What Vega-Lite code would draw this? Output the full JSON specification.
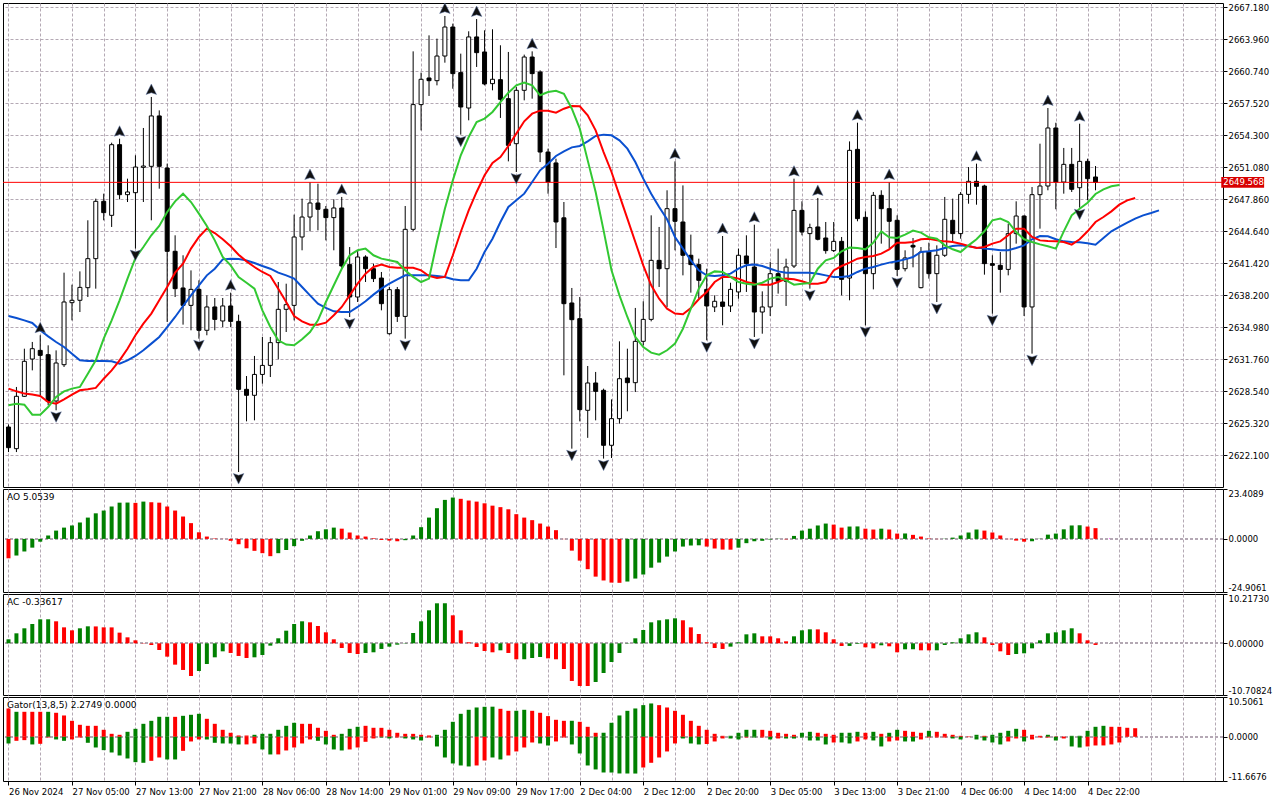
{
"$schema": "https://vega.github.io/schema/vega-lite/v6.json",
"padding": {"left": 2, "top": 1, "right": 0, "bottom": 0},
"background": "white",
"spacing": 2,
"bounds": "flush",
"config": {
 "view": {"stroke": "black", "strokeWidth": 1},
 "font": "DejaVu Sans",
 "axis": {"labelFont": "DejaVu Sans", "labelFontSize": 8.5, "labelColor": "black", "tickColor": "black", "domain": false},
 "title": {"font": "DejaVu Sans", "fontSize": 9, "fontWeight": "normal", "color": "black", "anchor": "start", "frame": "group", "baseline": "top", "offset": -13.5, "dx": 4},
 "locale": {"number": {"decimal": ".", "thousands": ",", "grouping": [3], "currency": ["$", ""], "minus": "-"}}
},
"datasets": {
 "candles": [
{"i":0,"o":2624.95,"h":2625.2,"l":2622.43,"c":2622.87},
{"i":1,"o":2622.77,"h":2628.98,"l":2622.43,"c":2628.04},
{"i":2,"o":2628.04,"h":2632.83,"l":2627.97,"c":2631.56},
{"i":3,"o":2631.79,"h":2633.51,"l":2630.65,"c":2632.83},
{"i":4,"o":2632.66,"h":2634.18,"l":2627.97,"c":2632.16,"f":"u"},
{"i":5,"o":2632.23,"h":2633.17,"l":2627.13,"c":2627.53},
{"i":6,"o":2627.57,"h":2632.66,"l":2626.63,"c":2631.39,"f":"d"},
{"i":7,"o":2631.22,"h":2640.48,"l":2630.99,"c":2637.53},
{"i":8,"o":2637.46,"h":2639.27,"l":2635.68,"c":2637.7},
{"i":9,"o":2637.7,"h":2640.61,"l":2636.52,"c":2639.0},
{"i":10,"o":2638.97,"h":2645.75,"l":2638.03,"c":2641.89},
{"i":11,"o":2641.89,"h":2647.93,"l":2638.87,"c":2647.66},
{"i":12,"o":2647.66,"h":2648.43,"l":2645.75,"c":2646.52},
{"i":13,"o":2646.25,"h":2653.56,"l":2645.08,"c":2653.36},
{"i":14,"o":2653.36,"h":2653.96,"l":2647.86,"c":2648.33,"f":"u"},
{"i":15,"o":2648.33,"h":2649.94,"l":2647.59,"c":2648.6},
{"i":16,"o":2648.53,"h":2652.29,"l":2642.9,"c":2651.11,"f":"d"},
{"i":17,"o":2651.08,"h":2655.04,"l":2647.59,"c":2651.21},
{"i":18,"o":2651.18,"h":2658.16,"l":2645.75,"c":2656.25,"f":"u"},
{"i":19,"o":2656.25,"h":2656.81,"l":2648.93,"c":2651.18},
{"i":20,"o":2651.01,"h":2651.45,"l":2635.52,"c":2642.63},
{"i":21,"o":2642.63,"h":2644.24,"l":2638.03,"c":2638.87},
{"i":22,"o":2638.94,"h":2642.23,"l":2635.25,"c":2637.19},
{"i":23,"o":2637.19,"h":2640.71,"l":2634.68,"c":2638.8},
{"i":24,"o":2638.8,"h":2639.71,"l":2633.84,"c":2634.68,"f":"d"},
{"i":25,"o":2634.68,"h":2638.2,"l":2634.18,"c":2637.03},
{"i":26,"o":2637.03,"h":2637.93,"l":2634.68,"c":2635.78},
{"i":27,"o":2635.62,"h":2637.93,"l":2635.01,"c":2637.13},
{"i":28,"o":2637.13,"h":2638.47,"l":2635.01,"c":2635.58,"f":"u"},
{"i":29,"o":2635.58,"h":2636.25,"l":2620.42,"c":2628.74,"f":"d"},
{"i":30,"o":2628.74,"h":2630.08,"l":2625.52,"c":2628.14},
{"i":31,"o":2628.14,"h":2632.1,"l":2625.62,"c":2630.24},
{"i":32,"o":2630.24,"h":2634.01,"l":2629.31,"c":2631.15},
{"i":33,"o":2631.15,"h":2634.01,"l":2629.98,"c":2633.44},
{"i":34,"o":2633.44,"h":2639.54,"l":2631.76,"c":2636.79},
{"i":35,"o":2636.79,"h":2639.37,"l":2634.51,"c":2637.26},
{"i":36,"o":2637.19,"h":2646.32,"l":2635.68,"c":2644.07},
{"i":37,"o":2644.07,"h":2647.93,"l":2642.73,"c":2646.08},
{"i":38,"o":2646.08,"h":2649.6,"l":2644.64,"c":2647.49,"f":"u"},
{"i":39,"o":2647.49,"h":2649.43,"l":2644.74,"c":2646.86},
{"i":40,"o":2646.86,"h":2647.19,"l":2643.73,"c":2646.02},
{"i":41,"o":2646.02,"h":2647.86,"l":2642.73,"c":2646.99},
{"i":42,"o":2646.99,"h":2648.1,"l":2640.88,"c":2641.15,"f":"u"},
{"i":43,"o":2641.29,"h":2643.06,"l":2636.02,"c":2638.03,"f":"d"},
{"i":44,"o":2638.03,"h":2642.73,"l":2637.53,"c":2642.06},
{"i":45,"o":2642.06,"h":2642.23,"l":2639.54,"c":2640.88},
{"i":46,"o":2640.88,"h":2641.39,"l":2639.54,"c":2639.88},
{"i":47,"o":2639.94,"h":2640.55,"l":2636.69,"c":2637.36},
{"i":48,"o":2634.34,"h":2639.04,"l":2634.24,"c":2638.77},
{"i":49,"o":2638.77,"h":2639.04,"l":2635.52,"c":2636.08},
{"i":50,"o":2636.08,"h":2647.19,"l":2633.84,"c":2644.84,"f":"d"},
{"i":51,"o":2644.84,"h":2662.75,"l":2644.64,"c":2657.39},
{"i":52,"o":2657.39,"h":2660.61,"l":2654.8,"c":2659.94},
{"i":53,"o":2660.07,"h":2664.36,"l":2658.26,"c":2659.8},
{"i":54,"o":2659.8,"h":2664.03,"l":2659.33,"c":2662.28},
{"i":55,"o":2662.28,"h":2666.31,"l":2661.61,"c":2665.2,"f":"u"},
{"i":56,"o":2665.2,"h":2665.54,"l":2658.99,"c":2660.51},
{"i":57,"o":2660.61,"h":2662.52,"l":2654.37,"c":2657.15,"f":"d"},
{"i":58,"o":2657.05,"h":2664.77,"l":2655.81,"c":2664.2},
{"i":59,"o":2664.2,"h":2666.0,"l":2661.18,"c":2662.62,"f":"u"},
{"i":60,"o":2662.69,"h":2664.87,"l":2659.33,"c":2659.47},
{"i":61,"o":2659.5,"h":2664.97,"l":2658.83,"c":2659.94},
{"i":62,"o":2659.9,"h":2663.36,"l":2656.05,"c":2657.92},
{"i":63,"o":2657.99,"h":2662.69,"l":2651.68,"c":2653.29},
{"i":64,"o":2653.46,"h":2659.17,"l":2650.61,"c":2658.83,"f":"d"},
{"i":65,"o":2658.83,"h":2662.42,"l":2657.82,"c":2662.18},
{"i":66,"o":2662.18,"h":2662.75,"l":2657.99,"c":2660.51,"f":"u"},
{"i":67,"o":2660.67,"h":2660.84,"l":2651.61,"c":2652.62},
{"i":68,"o":2652.62,"h":2652.96,"l":2648.43,"c":2649.6},
{"i":69,"o":2651.52,"h":2651.95,"l":2642.96,"c":2645.58},
{"i":70,"o":2646.0,"h":2647.59,"l":2630.15,"c":2637.36},
{"i":71,"o":2637.43,"h":2638.94,"l":2622.77,"c":2635.75,"f":"d"},
{"i":72,"o":2635.85,"h":2638.03,"l":2625.52,"c":2626.7},
{"i":73,"o":2626.63,"h":2631.09,"l":2623.86,"c":2629.38},
{"i":74,"o":2629.38,"h":2630.49,"l":2625.62,"c":2628.54},
{"i":75,"o":2628.64,"h":2628.81,"l":2621.77,"c":2623.11,"f":"d"},
{"i":76,"o":2623.11,"h":2627.73,"l":2621.83,"c":2625.79},
{"i":77,"o":2625.79,"h":2633.57,"l":2625.29,"c":2629.81},
{"i":78,"o":2629.88,"h":2632.83,"l":2626.53,"c":2629.41},
{"i":79,"o":2629.41,"h":2636.93,"l":2628.47,"c":2633.57},
{"i":80,"o":2633.57,"h":2637.6,"l":2633.17,"c":2635.78},
{"i":81,"o":2635.78,"h":2646.25,"l":2635.58,"c":2641.72},
{"i":82,"o":2641.72,"h":2645.08,"l":2639.04,"c":2640.88},
{"i":83,"o":2640.88,"h":2648.77,"l":2637.03,"c":2646.92},
{"i":84,"o":2646.92,"h":2651.68,"l":2642.73,"c":2645.65,"f":"u"},
{"i":85,"o":2645.58,"h":2649.26,"l":2640.21,"c":2642.23},
{"i":86,"o":2642.23,"h":2644.31,"l":2638.47,"c":2641.29},
{"i":87,"o":2641.29,"h":2641.89,"l":2637.86,"c":2639.71},
{"i":88,"o":2638.8,"h":2640.88,"l":2633.67,"c":2637.13,"f":"d"},
{"i":89,"o":2637.03,"h":2638.2,"l":2636.52,"c":2637.6},
{"i":90,"o":2637.53,"h":2644.17,"l":2635.18,"c":2637.09,"f":"u"},
{"i":91,"o":2637.13,"h":2639.47,"l":2636.52,"c":2638.8},
{"i":92,"o":2638.54,"h":2642.9,"l":2637.86,"c":2642.23},
{"i":93,"o":2642.16,"h":2644.24,"l":2638.54,"c":2641.39},
{"i":94,"o":2641.05,"h":2645.31,"l":2634.01,"c":2636.52,"f":"ud"},
{"i":95,"o":2636.52,"h":2638.6,"l":2634.34,"c":2637.03},
{"i":96,"o":2637.03,"h":2641.56,"l":2636.12,"c":2640.38},
{"i":97,"o":2640.38,"h":2642.9,"l":2638.37,"c":2639.61},
{"i":98,"o":2639.61,"h":2641.89,"l":2637.13,"c":2641.05},
{"i":99,"o":2641.15,"h":2649.94,"l":2640.95,"c":2646.75,"f":"u"},
{"i":100,"o":2646.75,"h":2647.66,"l":2644.24,"c":2644.57},
{"i":101,"o":2644.41,"h":2645.41,"l":2638.87,"c":2645.01,"f":"d"},
{"i":102,"o":2645.08,"h":2648.0,"l":2643.73,"c":2643.84,"f":"u"},
{"i":103,"o":2643.97,"h":2645.58,"l":2642.39,"c":2642.7},
{"i":104,"o":2642.7,"h":2645.58,"l":2642.56,"c":2643.63},
{"i":105,"o":2643.63,"h":2644.07,"l":2638.2,"c":2639.81},
{"i":106,"o":2639.94,"h":2653.69,"l":2637.7,"c":2652.79},
{"i":107,"o":2652.89,"h":2655.57,"l":2645.65,"c":2645.92,"f":"u"},
{"i":108,"o":2646.05,"h":2646.65,"l":2635.18,"c":2640.38,"f":"d"},
{"i":109,"o":2640.38,"h":2648.6,"l":2638.8,"c":2648.26},
{"i":110,"o":2648.26,"h":2648.77,"l":2643.4,"c":2646.92},
{"i":111,"o":2646.92,"h":2649.6,"l":2642.9,"c":2645.65,"f":"u"},
{"i":112,"o":2645.75,"h":2646.25,"l":2640.15,"c":2640.81,"f":"d"},
{"i":113,"o":2640.88,"h":2642.73,"l":2640.61,"c":2641.96},
{"i":114,"o":2643.23,"h":2643.97,"l":2641.02,"c":2643.06},
{"i":115,"o":2638.97,"h":2643.06,"l":2638.9,"c":2642.56},
{"i":116,"o":2642.56,"h":2643.5,"l":2639.88,"c":2640.38},
{"i":117,"o":2640.38,"h":2643.23,"l":2637.53,"c":2642.23,"f":"d"},
{"i":118,"o":2642.23,"h":2648.1,"l":2642.06,"c":2645.85},
{"i":119,"o":2645.75,"h":2647.93,"l":2643.57,"c":2644.41},
{"i":120,"o":2644.41,"h":2648.6,"l":2643.9,"c":2648.36},
{"i":121,"o":2648.36,"h":2651.11,"l":2647.42,"c":2649.67},
{"i":122,"o":2649.67,"h":2651.45,"l":2647.32,"c":2649.17,"f":"u"},
{"i":123,"o":2649.2,"h":2649.33,"l":2640.28,"c":2641.39},
{"i":124,"o":2641.39,"h":2642.23,"l":2636.35,"c":2641.22,"f":"d"},
{"i":125,"o":2641.22,"h":2642.56,"l":2638.47,"c":2640.81},
{"i":126,"o":2640.81,"h":2645.41,"l":2640.21,"c":2644.41},
{"i":127,"o":2644.41,"h":2647.66,"l":2643.4,"c":2646.18},
{"i":128,"o":2646.18,"h":2646.25,"l":2636.12,"c":2637.03},
{"i":129,"o":2637.03,"h":2649.1,"l":2632.33,"c":2648.33,"f":"d"},
{"i":130,"o":2648.33,"h":2653.46,"l":2644.91,"c":2649.2},
{"i":131,"o":2649.2,"h":2657.05,"l":2648.77,"c":2655.04,"f":"u"},
{"i":132,"o":2655.04,"h":2655.57,"l":2646.86,"c":2649.6},
{"i":133,"o":2649.6,"h":2653.03,"l":2648.43,"c":2651.38},
{"i":134,"o":2651.38,"h":2653.03,"l":2648.6,"c":2648.87},
{"i":135,"o":2649.03,"h":2655.47,"l":2647.02,"c":2651.68,"f":"ud"},
{"i":136,"o":2651.68,"h":2651.95,"l":2647.76,"c":2649.94},
{"i":137,"o":2650.11,"h":2651.21,"l":2648.77,"c":2649.568}
 ],
 "alli": [
{"i":0,"jaw":2636.12,"teeth":2628.81,"lips":2627.13},
{"i":1,"jaw":2635.92,"teeth":2628.54,"lips":2627.3},
{"i":2,"jaw":2635.68,"teeth":2628.31,"lips":2627.2},
{"i":3,"jaw":2635.42,"teeth":2628.21,"lips":2626.19},
{"i":4,"jaw":2634.68,"teeth":2628.07,"lips":2626.19},
{"i":5,"jaw":2634.07,"teeth":2627.47,"lips":2626.96},
{"i":6,"jaw":2633.5,"teeth":2627.3,"lips":2627.97},
{"i":7,"jaw":2633.0,"teeth":2627.74,"lips":2628.54},
{"i":8,"jaw":2632.33,"teeth":2628.21,"lips":2628.81},
{"i":9,"jaw":2631.66,"teeth":2628.64,"lips":2628.98},
{"i":10,"jaw":2631.59,"teeth":2628.74,"lips":2630.32},
{"i":11,"jaw":2631.59,"teeth":2628.88,"lips":2631.66},
{"i":12,"jaw":2631.59,"teeth":2629.81,"lips":2633.84},
{"i":13,"jaw":2631.56,"teeth":2630.65,"lips":2635.68},
{"i":14,"jaw":2631.32,"teeth":2631.66,"lips":2637.7},
{"i":15,"jaw":2631.66,"teeth":2632.83,"lips":2639.88},
{"i":16,"jaw":2632.1,"teeth":2634.18,"lips":2641.96},
{"i":17,"jaw":2632.67,"teeth":2635.35,"lips":2643.06},
{"i":18,"jaw":2633.34,"teeth":2636.36,"lips":2644.24},
{"i":19,"jaw":2634.01,"teeth":2637.7,"lips":2645.18},
{"i":20,"jaw":2635.01,"teeth":2639.04,"lips":2646.59},
{"i":21,"jaw":2636.02,"teeth":2640.48,"lips":2647.66},
{"i":22,"jaw":2637.13,"teeth":2641.39,"lips":2648.43},
{"i":23,"jaw":2638.2,"teeth":2642.9,"lips":2647.59},
{"i":24,"jaw":2639.21,"teeth":2644.07,"lips":2646.42},
{"i":25,"jaw":2640.21,"teeth":2644.91,"lips":2645.18},
{"i":26,"jaw":2640.88,"teeth":2644.47,"lips":2643.73},
{"i":27,"jaw":2641.82,"teeth":2643.84,"lips":2642.06},
{"i":28,"jaw":2641.89,"teeth":2643.13,"lips":2641.22},
{"i":29,"jaw":2641.86,"teeth":2642.29,"lips":2640.05},
{"i":30,"jaw":2641.72,"teeth":2641.62,"lips":2639.47},
{"i":31,"jaw":2641.45,"teeth":2641.05,"lips":2638.87},
{"i":32,"jaw":2641.15,"teeth":2640.55,"lips":2636.69},
{"i":33,"jaw":2640.88,"teeth":2640.15,"lips":2635.01},
{"i":34,"jaw":2640.48,"teeth":2638.87,"lips":2633.67},
{"i":35,"jaw":2640.21,"teeth":2637.53,"lips":2633.24},
{"i":36,"jaw":2639.88,"teeth":2636.12,"lips":2633.17},
{"i":37,"jaw":2639.04,"teeth":2635.58,"lips":2633.77},
{"i":38,"jaw":2638.2,"teeth":2635.25,"lips":2634.51},
{"i":39,"jaw":2637.36,"teeth":2635.25,"lips":2635.68},
{"i":40,"jaw":2636.93,"teeth":2635.45,"lips":2637.53},
{"i":41,"jaw":2636.59,"teeth":2636.19,"lips":2639.21},
{"i":42,"jaw":2636.52,"teeth":2637.03,"lips":2640.88},
{"i":43,"jaw":2636.52,"teeth":2638.2,"lips":2642.23},
{"i":44,"jaw":2637.03,"teeth":2639.37,"lips":2642.73},
{"i":45,"jaw":2637.6,"teeth":2640.38,"lips":2642.9},
{"i":46,"jaw":2638.27,"teeth":2641.05,"lips":2642.23},
{"i":47,"jaw":2638.87,"teeth":2641.29,"lips":2641.89},
{"i":48,"jaw":2639.37,"teeth":2641.05,"lips":2641.72},
{"i":49,"jaw":2639.81,"teeth":2640.98,"lips":2641.56},
{"i":50,"jaw":2640.21,"teeth":2640.98,"lips":2640.72},
{"i":51,"jaw":2640.21,"teeth":2640.98,"lips":2640.05},
{"i":52,"jaw":2640.21,"teeth":2640.71,"lips":2639.54},
{"i":53,"jaw":2640.21,"teeth":2640.15,"lips":2639.88},
{"i":54,"jaw":2640.15,"teeth":2639.94,"lips":2643.57},
{"i":55,"jaw":2640.05,"teeth":2640.05,"lips":2646.92},
{"i":56,"jaw":2639.81,"teeth":2642.23,"lips":2649.77},
{"i":57,"jaw":2639.71,"teeth":2644.57,"lips":2652.29},
{"i":58,"jaw":2639.71,"teeth":2646.75,"lips":2654.13},
{"i":59,"jaw":2640.88,"teeth":2648.6,"lips":2655.64},
{"i":60,"jaw":2642.56,"teeth":2650.28,"lips":2655.98},
{"i":61,"jaw":2643.9,"teeth":2651.52,"lips":2656.65},
{"i":62,"jaw":2645.58,"teeth":2652.12,"lips":2657.65},
{"i":63,"jaw":2647.09,"teeth":2653.23,"lips":2658.59},
{"i":64,"jaw":2647.76,"teeth":2654.47,"lips":2659.33},
{"i":65,"jaw":2648.43,"teeth":2655.71,"lips":2659.6},
{"i":66,"jaw":2649.6,"teeth":2656.48,"lips":2659.33},
{"i":67,"jaw":2650.78,"teeth":2656.78,"lips":2658.33},
{"i":68,"jaw":2651.45,"teeth":2656.78,"lips":2658.66},
{"i":69,"jaw":2652.22,"teeth":2656.58,"lips":2658.79},
{"i":70,"jaw":2652.69,"teeth":2656.98,"lips":2658.49},
{"i":71,"jaw":2653.09,"teeth":2657.25,"lips":2656.98},
{"i":72,"jaw":2653.23,"teeth":2657.22,"lips":2654.97},
{"i":73,"jaw":2653.7,"teeth":2656.31,"lips":2651.78},
{"i":74,"jaw":2654.23,"teeth":2654.8,"lips":2648.6},
{"i":75,"jaw":2654.37,"teeth":2652.62,"lips":2644.74},
{"i":76,"jaw":2654.3,"teeth":2650.61,"lips":2640.72},
{"i":77,"jaw":2653.8,"teeth":2648.26,"lips":2638.2},
{"i":78,"jaw":2652.96,"teeth":2645.92,"lips":2636.02},
{"i":79,"jaw":2651.62,"teeth":2643.57,"lips":2634.01},
{"i":80,"jaw":2649.94,"teeth":2641.22,"lips":2633.0},
{"i":81,"jaw":2648.43,"teeth":2639.21,"lips":2632.43},
{"i":82,"jaw":2647.09,"teeth":2637.86,"lips":2632.23},
{"i":83,"jaw":2645.85,"teeth":2636.86,"lips":2632.67},
{"i":84,"jaw":2644.07,"teeth":2636.36,"lips":2633.34},
{"i":85,"jaw":2642.9,"teeth":2636.29,"lips":2634.84},
{"i":86,"jaw":2641.72,"teeth":2636.93,"lips":2636.86},
{"i":87,"jaw":2640.72,"teeth":2637.8,"lips":2638.87},
{"i":88,"jaw":2640.21,"teeth":2638.54,"lips":2640.21},
{"i":89,"jaw":2640.15,"teeth":2639.54,"lips":2640.61},
{"i":90,"jaw":2640.21,"teeth":2640.05,"lips":2640.55},
{"i":91,"jaw":2640.38,"teeth":2640.05,"lips":2640.05},
{"i":92,"jaw":2640.88,"teeth":2639.88,"lips":2639.54},
{"i":93,"jaw":2641.22,"teeth":2639.54,"lips":2639.37},
{"i":94,"jaw":2641.29,"teeth":2639.37,"lips":2639.27},
{"i":95,"jaw":2641.15,"teeth":2639.27,"lips":2639.47},
{"i":96,"jaw":2640.88,"teeth":2639.27,"lips":2639.88},
{"i":97,"jaw":2640.61,"teeth":2639.54,"lips":2640.05},
{"i":98,"jaw":2640.48,"teeth":2639.88,"lips":2639.71},
{"i":99,"jaw":2640.48,"teeth":2639.81,"lips":2639.27},
{"i":100,"jaw":2640.48,"teeth":2639.61,"lips":2639.37},
{"i":101,"jaw":2640.48,"teeth":2639.37,"lips":2639.44},
{"i":102,"jaw":2640.38,"teeth":2639.37,"lips":2640.88},
{"i":103,"jaw":2640.21,"teeth":2639.54,"lips":2641.72},
{"i":104,"jaw":2640.05,"teeth":2640.71,"lips":2641.96},
{"i":105,"jaw":2640.05,"teeth":2641.15,"lips":2642.63},
{"i":106,"jaw":2640.15,"teeth":2641.49,"lips":2643.0},
{"i":107,"jaw":2640.55,"teeth":2641.89,"lips":2642.96},
{"i":108,"jaw":2640.88,"teeth":2642.06,"lips":2642.83},
{"i":109,"jaw":2641.05,"teeth":2642.16,"lips":2643.5},
{"i":110,"jaw":2641.29,"teeth":2642.39,"lips":2644.64},
{"i":111,"jaw":2641.49,"teeth":2642.83,"lips":2644.04},
{"i":112,"jaw":2641.62,"teeth":2643.5,"lips":2643.97},
{"i":113,"jaw":2641.82,"teeth":2643.5,"lips":2644.31},
{"i":114,"jaw":2642.06,"teeth":2643.57,"lips":2644.71},
{"i":115,"jaw":2642.56,"teeth":2643.84,"lips":2644.51},
{"i":116,"jaw":2642.63,"teeth":2643.9,"lips":2644.04},
{"i":117,"jaw":2642.73,"teeth":2643.73,"lips":2643.9},
{"i":118,"jaw":2642.96,"teeth":2643.63,"lips":2643.23},
{"i":119,"jaw":2643.16,"teeth":2643.57,"lips":2642.83},
{"i":120,"jaw":2643.23,"teeth":2643.4,"lips":2642.56},
{"i":121,"jaw":2643.13,"teeth":2643.16,"lips":2643.23},
{"i":122,"jaw":2643.0,"teeth":2642.96,"lips":2643.84},
{"i":123,"jaw":2642.9,"teeth":2643.06,"lips":2644.64},
{"i":124,"jaw":2642.83,"teeth":2643.4,"lips":2645.75},
{"i":125,"jaw":2642.73,"teeth":2643.63,"lips":2645.92},
{"i":126,"jaw":2642.73,"teeth":2644.24,"lips":2645.58},
{"i":127,"jaw":2642.96,"teeth":2644.91,"lips":2644.57},
{"i":128,"jaw":2643.23,"teeth":2644.91,"lips":2643.84},
{"i":129,"jaw":2643.84,"teeth":2644.07,"lips":2643.57},
{"i":130,"jaw":2644.17,"teeth":2643.73,"lips":2643.33},
{"i":131,"jaw":2644.14,"teeth":2643.67,"lips":2643.13},
{"i":132,"jaw":2643.84,"teeth":2643.63,"lips":2642.9},
{"i":133,"jaw":2643.63,"teeth":2643.57,"lips":2644.64},
{"i":134,"jaw":2643.57,"teeth":2643.3,"lips":2646.25},
{"i":135,"jaw":2643.53,"teeth":2643.84,"lips":2646.92},
{"i":136,"jaw":2643.43,"teeth":2644.64,"lips":2647.52},
{"i":137,"jaw":2643.3,"teeth":2645.58,"lips":2648.4},
{"i":138,"jaw":2643.97,"teeth":2646.08,"lips":2648.87},
{"i":139,"jaw":2644.64,"teeth":2646.65,"lips":2649.17},
{"i":140,"jaw":2645.08,"teeth":2647.32,"lips":2649.3},
{"i":141,"jaw":2645.51,"teeth":2647.76},
{"i":142,"jaw":2645.92,"teeth":2648.0},
{"i":143,"jaw":2646.25},
{"i":144,"jaw":2646.49},
{"i":145,"jaw":2646.75}
 ],
 "ao": [
{"i":0,"v":-9.1,"c":"r"},{"i":1,"v":-7.8,"c":"g"},{"i":2,"v":-5.9,"c":"g"},{"i":3,"v":-4.1,"c":"g"},{"i":4,"v":-1.3,"c":"g"},
{"i":5,"v":1.6,"c":"g"},{"i":6,"v":3.9,"c":"g"},{"i":7,"v":5.3,"c":"g"},{"i":8,"v":6.3,"c":"g"},{"i":9,"v":7.7,"c":"g"},
{"i":10,"v":10.0,"c":"g"},{"i":11,"v":12.0,"c":"g"},{"i":12,"v":13.3,"c":"g"},{"i":13,"v":15.2,"c":"g"},{"i":14,"v":17.0,"c":"g"},
{"i":15,"v":17.05,"c":"g"},{"i":16,"v":16.9,"c":"r"},{"i":17,"v":17.5,"c":"g"},{"i":18,"v":17.2,"c":"r"},{"i":19,"v":17.0,"c":"r"},
{"i":20,"v":15.2,"c":"r"},{"i":21,"v":13.3,"c":"r"},{"i":22,"v":10.5,"c":"r"},{"i":23,"v":7.4,"c":"r"},{"i":24,"v":3.1,"c":"r"},
{"i":25,"v":1.1,"c":"r"},{"i":26,"v":0.2,"c":"r"},{"i":27,"v":0.05,"c":"r"},{"i":28,"v":-0.9,"c":"r"},{"i":29,"v":-2.5,"c":"r"},
{"i":30,"v":-4.4,"c":"r"},{"i":31,"v":-5.6,"c":"r"},{"i":32,"v":-6.7,"c":"r"},{"i":33,"v":-8.1,"c":"r"},{"i":34,"v":-6.7,"c":"g"},
{"i":35,"v":-5.2,"c":"g"},{"i":36,"v":-3.4,"c":"g"},{"i":37,"v":-0.9,"c":"g"},{"i":38,"v":1.6,"c":"g"},{"i":39,"v":3.6,"c":"g"},
{"i":40,"v":4.5,"c":"g"},{"i":41,"v":5.3,"c":"g"},{"i":42,"v":4.8,"c":"r"},{"i":43,"v":3.0,"c":"r"},{"i":44,"v":1.6,"c":"r"},
{"i":45,"v":1.1,"c":"r"},{"i":46,"v":0.3,"c":"r"},{"i":47,"v":-0.5,"c":"r"},{"i":48,"v":-0.8,"c":"r"},{"i":49,"v":-1.1,"c":"r"},
{"i":50,"v":-0.6,"c":"g"},{"i":51,"v":1.6,"c":"g"},{"i":52,"v":5.5,"c":"g"},{"i":53,"v":10.0,"c":"g"},{"i":54,"v":14.4,"c":"g"},
{"i":55,"v":18.3,"c":"g"},{"i":56,"v":19.4,"c":"g"},{"i":57,"v":18.8,"c":"r"},{"i":58,"v":18.0,"c":"r"},{"i":59,"v":17.5,"c":"r"},
{"i":60,"v":16.7,"c":"r"},{"i":61,"v":15.6,"c":"r"},{"i":62,"v":14.9,"c":"r"},{"i":63,"v":13.9,"c":"r"},{"i":64,"v":11.6,"c":"r"},
{"i":65,"v":10.0,"c":"r"},{"i":66,"v":8.8,"c":"r"},{"i":67,"v":7.2,"c":"r"},{"i":68,"v":5.8,"c":"r"},{"i":69,"v":4.1,"c":"r"},
{"i":70,"v":-0.1,"c":"r"},{"i":71,"v":-5.5,"c":"r"},{"i":72,"v":-10.2,"c":"r"},{"i":73,"v":-14.2,"c":"r"},{"i":74,"v":-17.7,"c":"r"},
{"i":75,"v":-19.5,"c":"r"},{"i":76,"v":-20.5,"c":"r"},{"i":77,"v":-20.6,"c":"r"},{"i":78,"v":-20.0,"c":"g"},{"i":79,"v":-18.6,"c":"g"},
{"i":80,"v":-16.7,"c":"g"},{"i":81,"v":-13.5,"c":"g"},{"i":82,"v":-11.1,"c":"g"},{"i":83,"v":-8.3,"c":"g"},{"i":84,"v":-5.9,"c":"g"},
{"i":85,"v":-3.6,"c":"g"},{"i":86,"v":-3.1,"c":"g"},{"i":87,"v":-3.0,"c":"g"},{"i":88,"v":-3.6,"c":"r"},{"i":89,"v":-4.5,"c":"r"},
{"i":90,"v":-5.0,"c":"r"},{"i":91,"v":-5.05,"c":"r"},{"i":92,"v":-4.1,"c":"g"},{"i":93,"v":-2.0,"c":"g"},{"i":94,"v":-1.1,"c":"g"},
{"i":95,"v":-0.9,"c":"g"},{"i":96,"v":-0.3,"c":"g"},{"i":97,"v":0.1,"c":"g"},{"i":98,"v":-0.2,"c":"r"},{"i":99,"v":1.4,"c":"g"},
{"i":100,"v":3.9,"c":"g"},{"i":101,"v":4.8,"c":"g"},{"i":102,"v":6.3,"c":"g"},{"i":103,"v":7.2,"c":"g"},{"i":104,"v":6.7,"c":"r"},
{"i":105,"v":5.3,"c":"r"},{"i":106,"v":5.8,"c":"g"},{"i":107,"v":5.85,"c":"g"},{"i":108,"v":4.8,"c":"r"},{"i":109,"v":4.4,"c":"r"},
{"i":110,"v":4.8,"c":"g"},{"i":111,"v":4.4,"c":"r"},{"i":112,"v":2.5,"c":"r"},{"i":113,"v":2.55,"c":"g"},{"i":114,"v":1.9,"c":"r"},
{"i":115,"v":1.1,"c":"r"},{"i":116,"v":0.2,"c":"r"},{"i":117,"v":-0.1,"c":"r"},{"i":118,"v":0.1,"c":"g"},{"i":119,"v":0.6,"c":"g"},
{"i":120,"v":1.6,"c":"g"},{"i":121,"v":3.0,"c":"g"},{"i":122,"v":4.4,"c":"g"},{"i":123,"v":3.9,"c":"r"},{"i":124,"v":3.0,"c":"r"},
{"i":125,"v":1.6,"c":"r"},{"i":126,"v":-0.1,"c":"r"},{"i":127,"v":-0.8,"c":"r"},{"i":128,"v":-1.3,"c":"r"},{"i":129,"v":-1.1,"c":"g"},
{"i":130,"v":0.1,"c":"g"},{"i":131,"v":2.0,"c":"g"},{"i":132,"v":2.5,"c":"g"},{"i":133,"v":4.5,"c":"g"},{"i":134,"v":6.3,"c":"g"},
{"i":135,"v":6.4,"c":"g"},{"i":136,"v":5.8,"c":"r"},{"i":137,"v":5.05,"c":"r"}
 ],
 "ac": [
{"i":0,"v":0.83,"c":"g"},{"i":1,"v":2.07,"c":"g"},{"i":2,"v":3.11,"c":"g"},{"i":3,"v":4.0,"c":"g"},{"i":4,"v":4.97,"c":"g"},
{"i":5,"v":4.98,"c":"g"},{"i":6,"v":4.56,"c":"r"},{"i":7,"v":3.31,"c":"r"},{"i":8,"v":2.69,"c":"r"},{"i":9,"v":3.11,"c":"g"},
{"i":10,"v":3.52,"c":"g"},{"i":11,"v":3.5,"c":"r"},{"i":12,"v":3.31,"c":"r"},{"i":13,"v":3.3,"c":"r"},{"i":14,"v":2.21,"c":"r"},
{"i":15,"v":1.24,"c":"r"},{"i":16,"v":0.62,"c":"r"},{"i":17,"v":0.07,"c":"r"},{"i":18,"v":-0.35,"c":"r"},{"i":19,"v":-1.38,"c":"r"},
{"i":20,"v":-2.76,"c":"r"},{"i":21,"v":-4.42,"c":"r"},{"i":22,"v":-5.52,"c":"r"},{"i":23,"v":-6.77,"c":"r"},{"i":24,"v":-5.73,"c":"g"},
{"i":25,"v":-4.28,"c":"g"},{"i":26,"v":-2.9,"c":"g"},{"i":27,"v":-1.66,"c":"g"},{"i":28,"v":-2.0,"c":"r"},{"i":29,"v":-2.62,"c":"r"},
{"i":30,"v":-3.04,"c":"r"},{"i":31,"v":-2.9,"c":"g"},{"i":32,"v":-2.42,"c":"g"},{"i":33,"v":-0.48,"c":"g"},{"i":34,"v":1.04,"c":"g"},
{"i":35,"v":2.62,"c":"g"},{"i":36,"v":4.0,"c":"g"},{"i":37,"v":4.56,"c":"g"},{"i":38,"v":4.35,"c":"r"},{"i":39,"v":3.59,"c":"r"},
{"i":40,"v":2.28,"c":"r"},{"i":41,"v":0.83,"c":"r"},{"i":42,"v":-0.97,"c":"r"},{"i":43,"v":-2.0,"c":"r"},{"i":44,"v":-2.21,"c":"r"},
{"i":45,"v":-2.0,"c":"g"},{"i":46,"v":-1.86,"c":"g"},{"i":47,"v":-1.17,"c":"g"},{"i":48,"v":-0.69,"c":"g"},{"i":49,"v":-0.28,"c":"g"},
{"i":50,"v":0.07,"c":"g"},{"i":51,"v":2.14,"c":"g"},{"i":52,"v":4.56,"c":"g"},{"i":53,"v":6.84,"c":"g"},{"i":54,"v":8.29,"c":"g"},
{"i":55,"v":8.3,"c":"g"},{"i":56,"v":5.8,"c":"r"},{"i":57,"v":2.69,"c":"r"},{"i":58,"v":0.21,"c":"r"},{"i":59,"v":-0.76,"c":"r"},
{"i":60,"v":-1.59,"c":"r"},{"i":61,"v":-1.86,"c":"r"},{"i":62,"v":-1.45,"c":"g"},{"i":63,"v":-2.0,"c":"r"},{"i":64,"v":-3.31,"c":"r"},
{"i":65,"v":-3.3,"c":"g"},{"i":66,"v":-3.04,"c":"g"},{"i":67,"v":-2.83,"c":"g"},{"i":68,"v":-3.11,"c":"r"},{"i":69,"v":-3.31,"c":"r"},
{"i":70,"v":-5.32,"c":"r"},{"i":71,"v":-7.8,"c":"r"},{"i":72,"v":-8.84,"c":"r"},{"i":73,"v":-8.85,"c":"r"},{"i":74,"v":-8.01,"c":"g"},
{"i":75,"v":-6.15,"c":"g"},{"i":76,"v":-3.87,"c":"g"},{"i":77,"v":-2.0,"c":"g"},{"i":78,"v":-0.07,"c":"g"},{"i":79,"v":1.04,"c":"g"},
{"i":80,"v":2.76,"c":"g"},{"i":81,"v":4.35,"c":"g"},{"i":82,"v":4.77,"c":"g"},{"i":83,"v":4.97,"c":"g"},{"i":84,"v":5.18,"c":"g"},
{"i":85,"v":4.77,"c":"r"},{"i":86,"v":3.31,"c":"r"},{"i":87,"v":1.93,"c":"r"},{"i":88,"v":0.21,"c":"r"},{"i":89,"v":-0.97,"c":"r"},
{"i":90,"v":-1.17,"c":"r"},{"i":91,"v":-0.69,"c":"g"},{"i":92,"v":0.21,"c":"g"},{"i":93,"v":1.86,"c":"g"},{"i":94,"v":2.07,"c":"g"},
{"i":95,"v":1.45,"c":"r"},{"i":96,"v":1.44,"c":"r"},{"i":97,"v":1.04,"c":"r"},{"i":98,"v":0.41,"c":"r"},{"i":99,"v":1.45,"c":"g"},
{"i":100,"v":2.69,"c":"g"},{"i":101,"v":2.9,"c":"g"},{"i":102,"v":2.89,"c":"r"},{"i":103,"v":2.28,"c":"r"},{"i":104,"v":0.83,"c":"r"},
{"i":105,"v":-0.55,"c":"r"},{"i":106,"v":-0.54,"c":"g"},{"i":107,"v":-0.14,"c":"g"},{"i":108,"v":-0.83,"c":"r"},{"i":109,"v":-1.04,"c":"r"},
{"i":110,"v":-0.41,"c":"g"},{"i":111,"v":-0.62,"c":"r"},{"i":112,"v":-1.86,"c":"r"},{"i":113,"v":-1.24,"c":"g"},{"i":114,"v":-1.23,"c":"g"},
{"i":115,"v":-1.45,"c":"r"},{"i":116,"v":-1.46,"c":"r"},{"i":117,"v":-1.45,"c":"g"},{"i":118,"v":-0.35,"c":"g"},{"i":119,"v":0.21,"c":"g"},
{"i":120,"v":1.04,"c":"g"},{"i":121,"v":1.86,"c":"g"},{"i":122,"v":2.28,"c":"g"},{"i":123,"v":1.24,"c":"r"},{"i":124,"v":-0.35,"c":"r"},
{"i":125,"v":-1.66,"c":"r"},{"i":126,"v":-2.42,"c":"r"},{"i":127,"v":-2.21,"c":"g"},{"i":128,"v":-2.07,"c":"g"},{"i":129,"v":-1.04,"c":"g"},
{"i":130,"v":0.62,"c":"g"},{"i":131,"v":2.07,"c":"g"},{"i":132,"v":2.28,"c":"g"},{"i":133,"v":2.69,"c":"g"},{"i":134,"v":3.11,"c":"g"},
{"i":135,"v":2.07,"c":"r"},{"i":136,"v":0.62,"c":"r"},{"i":137,"v":-0.34,"c":"r"}
 ],
 "gator": [
{"i":0,"u":7.48,"uc":"r","d":-1.76,"dc":"g"},{"i":1,"u":6.6,"uc":"g","d":-1.06,"dc":"r"},{"i":2,"u":6.6,"uc":"r","d":-0.88,"dc":"r"},
{"i":3,"u":6.6,"uc":"r","d":-2.02,"dc":"g"},{"i":4,"u":6.6,"uc":"r","d":-1.85,"dc":"r"},{"i":5,"u":6.6,"uc":"g","d":-0.18,"dc":"r"},
{"i":6,"u":6.34,"uc":"r","d":-0.7,"dc":"g"},{"i":7,"u":5.63,"uc":"r","d":-1.06,"dc":"g"},{"i":8,"u":4.22,"uc":"r","d":-0.7,"dc":"r"},
{"i":9,"u":3.17,"uc":"r","d":-0.18,"dc":"r"},{"i":10,"u":2.9,"uc":"r","d":-1.58,"dc":"g"},{"i":11,"u":2.9,"uc":"r","d":-2.82,"dc":"g"},
{"i":12,"u":1.85,"uc":"r","d":-3.52,"dc":"g"},{"i":13,"u":0.79,"uc":"r","d":-4.14,"dc":"g"},{"i":14,"u":0.53,"uc":"r","d":-4.93,"dc":"g"},
{"i":15,"u":1.32,"uc":"g","d":-5.72,"dc":"g"},{"i":16,"u":2.11,"uc":"g","d":-6.69,"dc":"g"},{"i":17,"u":3.43,"uc":"g","d":-6.86,"dc":"g"},
{"i":18,"u":4.22,"uc":"g","d":-6.34,"dc":"r"},{"i":19,"u":5.28,"uc":"g","d":-5.46,"dc":"r"},{"i":20,"u":5.28,"uc":"g","d":-5.98,"dc":"g"},
{"i":21,"u":5.27,"uc":"r","d":-5.98,"dc":"g"},{"i":22,"u":5.54,"uc":"g","d":-3.7,"dc":"r"},{"i":23,"u":5.81,"uc":"g","d":-1.23,"dc":"r"},
{"i":24,"u":6.07,"uc":"g","d":-0.7,"dc":"r"},{"i":25,"u":4.75,"uc":"r","d":-0.71,"dc":"g"},{"i":26,"u":3.43,"uc":"r","d":-1.58,"dc":"g"},
{"i":27,"u":1.85,"uc":"r","d":-1.76,"dc":"g"},{"i":28,"u":1.06,"uc":"r","d":-1.77,"dc":"g"},{"i":29,"u":0.35,"uc":"r","d":-2.02,"dc":"g"},
{"i":30,"u":0.34,"uc":"r","d":-2.01,"dc":"r"},{"i":31,"u":0.53,"uc":"g","d":-1.76,"dc":"r"},{"i":32,"u":0.79,"uc":"g","d":-3.34,"dc":"g"},
{"i":33,"u":0.8,"uc":"g","d":-4.66,"dc":"g"},{"i":34,"u":1.85,"uc":"g","d":-4.65,"dc":"r"},{"i":35,"u":2.9,"uc":"g","d":-3.61,"dc":"r"},
{"i":36,"u":3.7,"uc":"g","d":-2.82,"dc":"r"},{"i":37,"u":3.43,"uc":"r","d":-1.76,"dc":"r"},{"i":38,"u":3.42,"uc":"r","d":-0.7,"dc":"r"},
{"i":39,"u":2.38,"uc":"r","d":-1.06,"dc":"g"},{"i":40,"u":1.58,"uc":"r","d":-2.02,"dc":"g"},{"i":41,"u":0.53,"uc":"r","d":-3.34,"dc":"g"},
{"i":42,"u":0.79,"uc":"g","d":-3.61,"dc":"g"},{"i":43,"u":2.11,"uc":"g","d":-3.34,"dc":"r"},{"i":44,"u":2.64,"uc":"g","d":-2.82,"dc":"r"},
{"i":45,"u":2.9,"uc":"r","d":-1.32,"dc":"r"},{"i":46,"u":2.38,"uc":"r","d":-0.44,"dc":"r"},{"i":47,"u":2.37,"uc":"r","d":-0.18,"dc":"g"},
{"i":48,"u":1.85,"uc":"r","d":-0.44,"dc":"g"},{"i":49,"u":1.06,"uc":"r","d":-0.18,"dc":"r"},{"i":50,"u":0.79,"uc":"r","d":-0.44,"dc":"g"},
{"i":51,"u":0.78,"uc":"r","d":-0.7,"dc":"g"},{"i":52,"u":0.53,"uc":"r","d":-0.97,"dc":"g"},{"i":53,"u":0.35,"uc":"r","d":-0.18,"dc":"r"},
{"i":54,"u":0.53,"uc":"g","d":-2.55,"dc":"g"},{"i":55,"u":1.85,"uc":"g","d":-5.46,"dc":"g"},{"i":56,"u":3.96,"uc":"g","d":-7.04,"dc":"g"},
{"i":57,"u":6.07,"uc":"g","d":-7.57,"dc":"g"},{"i":58,"u":7.13,"uc":"g","d":-7.83,"dc":"g"},{"i":59,"u":7.74,"uc":"g","d":-7.57,"dc":"r"},
{"i":60,"u":7.92,"uc":"g","d":-6.25,"dc":"r"},{"i":61,"u":7.95,"uc":"g","d":-5.46,"dc":"g"},{"i":62,"u":7.39,"uc":"r","d":-5.98,"dc":"g"},
{"i":63,"u":6.86,"uc":"r","d":-4.93,"dc":"r"},{"i":64,"u":6.87,"uc":"g","d":-3.87,"dc":"r"},{"i":65,"u":7.13,"uc":"g","d":-2.82,"dc":"r"},
{"i":66,"u":6.86,"uc":"r","d":-1.5,"dc":"r"},{"i":67,"u":6.34,"uc":"r","d":-1.76,"dc":"g"},{"i":68,"u":5.46,"uc":"r","d":-2.29,"dc":"g"},
{"i":69,"u":4.49,"uc":"r","d":-1.23,"dc":"r"},{"i":70,"u":4.22,"uc":"r","d":-0.18,"dc":"r"},{"i":71,"u":4.23,"uc":"g","d":-2.02,"dc":"g"},
{"i":72,"u":3.96,"uc":"r","d":-4.4,"dc":"g"},{"i":73,"u":2.64,"uc":"r","d":-7.57,"dc":"g"},{"i":74,"u":1.06,"uc":"r","d":-8.62,"dc":"g"},
{"i":75,"u":1.07,"uc":"g","d":-9.42,"dc":"g"},{"i":76,"u":3.7,"uc":"g","d":-9.43,"dc":"g"},{"i":77,"u":5.63,"uc":"g","d":-9.68,"dc":"g"},
{"i":78,"u":6.86,"uc":"g","d":-9.69,"dc":"g"},{"i":79,"u":7.48,"uc":"g","d":-9.7,"dc":"g"},{"i":80,"u":8.36,"uc":"g","d":-8.1,"dc":"r"},
{"i":81,"u":8.8,"uc":"g","d":-6.86,"dc":"r"},{"i":82,"u":8.36,"uc":"r","d":-5.46,"dc":"r"},{"i":83,"u":7.74,"uc":"r","d":-3.87,"dc":"r"},
{"i":84,"u":6.86,"uc":"r","d":-1.76,"dc":"r"},{"i":85,"u":5.81,"uc":"r","d":-0.44,"dc":"g"},{"i":86,"u":4.22,"uc":"r","d":-1.76,"dc":"g"},
{"i":87,"u":2.9,"uc":"r","d":-2.02,"dc":"g"},{"i":88,"u":1.85,"uc":"r","d":-1.9,"dc":"r"},{"i":89,"u":0.79,"uc":"r","d":-1.23,"dc":"r"},
{"i":90,"u":0.26,"uc":"r","d":-0.44,"dc":"r"},{"i":91,"u":0.27,"uc":"g","d":-0.45,"dc":"g"},{"i":92,"u":1.06,"uc":"g","d":-0.7,"dc":"g"},
{"i":93,"u":1.85,"uc":"g","d":-0.18,"dc":"r"},{"i":94,"u":1.86,"uc":"g","d":-0.19,"dc":"g"},{"i":95,"u":1.84,"uc":"r","d":-0.17,"dc":"r"},
{"i":96,"u":1.58,"uc":"r","d":-0.7,"dc":"g"},{"i":97,"u":1.06,"uc":"r","d":-0.44,"dc":"r"},{"i":98,"u":0.79,"uc":"r","d":-0.45,"dc":"g"},
{"i":99,"u":0.53,"uc":"r","d":-0.46,"dc":"g"},{"i":100,"u":1.06,"uc":"g","d":-0.18,"dc":"g"},{"i":101,"u":1.32,"uc":"g","d":-0.97,"dc":"g"},
{"i":102,"u":1.06,"uc":"r","d":-0.98,"dc":"g"},{"i":103,"u":0.79,"uc":"r","d":-2.02,"dc":"g"},{"i":104,"u":0.53,"uc":"r","d":-1.5,"dc":"r"},
{"i":105,"u":1.06,"uc":"g","d":-1.49,"dc":"g"},{"i":106,"u":1.07,"uc":"g","d":-1.76,"dc":"g"},{"i":107,"u":1.32,"uc":"g","d":-1.23,"dc":"r"},
{"i":108,"u":1.06,"uc":"r","d":-0.7,"dc":"r"},{"i":109,"u":1.32,"uc":"g","d":-0.97,"dc":"g"},{"i":110,"u":0.79,"uc":"r","d":-2.55,"dc":"g"},
{"i":111,"u":1.06,"uc":"g","d":-1.23,"dc":"r"},{"i":112,"u":1.85,"uc":"g","d":-0.97,"dc":"r"},{"i":113,"u":1.58,"uc":"r","d":-1.23,"dc":"g"},
{"i":114,"u":1.32,"uc":"r","d":-1.24,"dc":"g"},{"i":115,"u":1.06,"uc":"r","d":-0.7,"dc":"r"},{"i":116,"u":1.58,"uc":"g","d":-0.18,"dc":"r"},
{"i":117,"u":1.32,"uc":"r","d":-0.17,"dc":"r"},{"i":118,"u":0.79,"uc":"r","d":-0.19,"dc":"r"},{"i":119,"u":0.53,"uc":"r","d":-0.44,"dc":"g"},
{"i":120,"u":0.26,"uc":"r","d":-0.7,"dc":"g"},{"i":121,"u":0.09,"uc":"r","d":-0.09,"dc":"r"},{"i":122,"u":0.53,"uc":"g","d":-0.7,"dc":"g"},
{"i":123,"u":0.26,"uc":"r","d":-0.97,"dc":"g"},{"i":124,"u":0.53,"uc":"g","d":-1.5,"dc":"g"},{"i":125,"u":1.06,"uc":"g","d":-2.02,"dc":"g"},
{"i":126,"u":1.58,"uc":"g","d":-1.23,"dc":"r"},{"i":127,"u":2.11,"uc":"g","d":-0.44,"dc":"r"},{"i":128,"u":1.85,"uc":"r","d":-1.23,"dc":"g"},
{"i":129,"u":0.53,"uc":"r","d":-0.7,"dc":"r"},{"i":130,"u":0.26,"uc":"r","d":-0.18,"dc":"r"},{"i":131,"u":0.53,"uc":"g","d":-0.19,"dc":"r"},
{"i":132,"u":0.09,"uc":"r","d":-0.97,"dc":"g"},{"i":133,"u":0.08,"uc":"r","d":-0.44,"dc":"r"},{"i":134,"u":0.26,"uc":"g","d":-2.55,"dc":"g"},
{"i":135,"u":0.27,"uc":"g","d":-2.82,"dc":"g"},{"i":136,"u":1.58,"uc":"g","d":-2.55,"dc":"r"},{"i":137,"u":2.64,"uc":"g","d":-2.29,"dc":"r"},
{"i":138,"u":2.9,"uc":"g","d":-2.28,"dc":"r"},{"i":139,"u":2.64,"uc":"r","d":-2.02,"dc":"r"},{"i":140,"u":2.63,"uc":"r","d":-1.5,"dc":"r"},
{"i":141,"u":2.38,"uc":"r"},{"i":142,"u":2.27,"uc":"r"}
 ]
},
"vconcat": [
 {
  "width": 1220, "height": 484,
  "encoding": {
   "x": {"type": "quantitative", "title": null, "scale": {"domain": [-0.0625, 152.4375], "nice": false, "zero": false},
     "axis": {"values": [0,4,8,12,16,20,24,28,32,36,40,44,48,52,56,60,64,68,72,76,80,84,88,92,96,100,104,108,112,116,120,124,128,132,136,140,144,148,152], "grid": true, "gridColor": "#b4a9b4", "gridDash": [3,2], "labels": false, "ticks": false, "domain": false, "title": null}},
   "y": {"type": "quantitative", "title": null, "scale": {"domain": [2618.913, 2667.616], "nice": false, "zero": false},
     "axis": {"orient": "right", "values": [2622.1,2625.32,2628.54,2631.76,2634.98,2638.2,2641.42,2644.64,2647.86,2651.08,2654.3,2657.52,2660.74,2663.96,2667.18], "format": ".3f", "grid": true, "gridColor": "#b4a9b4", "gridDash": [3,2], "tickSize": 4, "labelPadding": 1, "domain": false, "title": null}}
  },
  "layer": [
   {"data": {"name": "candles"},
    "mark": {"type": "rule", "color": "black", "strokeWidth": 1},
    "encoding": {"x": {"field": "i"}, "y": {"field": "l"}, "y2": {"field": "h"}}},
   {"data": {"name": "candles"},
    "mark": {"type": "bar", "width": 4, "stroke": "black", "strokeWidth": 1},
    "encoding": {
     "x": {"field": "i"}, "y": {"field": "o"}, "y2": {"field": "c"},
     "fill": {"condition": {"test": "datum.c > datum.o", "value": "white"}, "value": "black"}
    }},
   {"data": {"values": [{"p": 2649.568}]},
    "mark": {"type": "rule", "color": "#FF0000", "strokeWidth": 1},
    "encoding": {"x": null, "y": {"field": "p"}}},
   {"data": {"values": [{"p": 2649.568}]},
    "mark": {"type": "rect", "color": "#D80000"},
    "encoding": {"x": {"datum": 152.85}, "x2": {"datum": 158.25}, "y": {"datum": 2650.11}, "y2": {"datum": 2649.03}}},
   {"data": {"values": [{"p": 2649.568}]},
    "mark": {"type": "text", "align": "left", "baseline": "middle", "dx": 2, "color": "white", "font": "DejaVu Sans", "fontSize": 8.5},
    "encoding": {"x": {"datum": 152.85}, "y": {"field": "p"}, "text": {"field": "p", "type": "quantitative", "format": ".3f"}}},
   {"data": {"name": "alli"},
    "mark": {"type": "line", "color": "#0A50D0", "strokeWidth": 2},
    "encoding": {"x": {"field": "i"}, "y": {"field": "jaw"}}},
   {"data": {"name": "alli"},
    "mark": {"type": "line", "color": "#FF0000", "strokeWidth": 2},
    "encoding": {"x": {"field": "i"}, "y": {"field": "teeth"}}},
   {"data": {"name": "alli"},
    "mark": {"type": "line", "color": "#32C832", "strokeWidth": 2},
    "encoding": {"x": {"field": "i"}, "y": {"field": "lips"}}},
   {"data": {"name": "candles"},
    "transform": [{"filter": "datum.f === 'u' || datum.f === 'ud'"}],
    "mark": {"type": "point", "filled": true, "color": "#111111", "opacity": 1, "size": 100, "stroke": "#6078a8", "strokeWidth": 0.5, "shape": "M0,-2.6L1.05,-0.5L0,-0.85L-1.05,-0.5Z"},
    "encoding": {"x": {"field": "i"}, "y": {"field": "h"}}},
   {"data": {"name": "candles"},
    "transform": [{"filter": "datum.f === 'd' || datum.f === 'ud'"}],
    "mark": {"type": "point", "filled": true, "color": "#111111", "opacity": 1, "size": 100, "stroke": "#6078a8", "strokeWidth": 0.5, "shape": "M0,2.4L1.05,0.3L0,0.65L-1.05,0.3Z"},
    "encoding": {"x": {"field": "i"}, "y": {"field": "l"}}}
  ]
 },
 {
  "width": 1220, "height": 103,
  "title": {"text": "AO 5.0539"},
  "data": {"name": "ao"},
  "encoding": {
   "x": {"field": "i", "type": "quantitative", "title": null, "scale": {"domain": [-0.0625, 152.4375], "nice": false, "zero": false},
     "axis": {"values": [0,4,8,12,16,20,24,28,32,36,40,44,48,52,56,60,64,68,72,76,80,84,88,92,96,100,104,108,112,116,120,124,128,132,136,140,144,148,152], "grid": true, "gridColor": "#b4a9b4", "gridDash": [3,2], "labels": false, "ticks": false, "domain": false, "title": null}},
   "y": {"field": "v", "type": "quantitative", "title": null, "scale": {"domain": [-24.9061, 23.4089], "nice": false, "zero": false},
     "axis": {"orient": "right", "values": [-24.9061, 0, 23.4089], "format": ".4f", "grid": false, "tickSize": 4, "labelPadding": 1, "labelFlush": true, "domain": false, "title": null}}
  },
  "layer": [
   {"mark": {"type": "rule", "color": "#b4a9b4", "strokeDash": [3,2]},
    "encoding": {"x": null, "y": {"datum": 0}}},
   {"mark": {"type": "bar", "width": 4},
    "encoding": {"color": {"field": "c", "type": "nominal", "scale": {"domain": ["g", "r"], "range": ["#008000", "#FF0000"]}, "legend": null}}}
  ]
 },
 {
  "width": 1220, "height": 101,
  "title": {"text": "AC -0.33617"},
  "data": {"name": "ac"},
  "encoding": {
   "x": {"field": "i", "type": "quantitative", "title": null, "scale": {"domain": [-0.0625, 152.4375], "nice": false, "zero": false},
     "axis": {"values": [0,4,8,12,16,20,24,28,32,36,40,44,48,52,56,60,64,68,72,76,80,84,88,92,96,100,104,108,112,116,120,124,128,132,136,140,144,148,152], "grid": true, "gridColor": "#b4a9b4", "gridDash": [3,2], "labels": false, "ticks": false, "domain": false, "title": null}},
   "y": {"field": "v", "type": "quantitative", "title": null, "scale": {"domain": [-10.70824, 10.2173], "nice": false, "zero": false},
     "axis": {"orient": "right", "values": [-10.70824, 0, 10.2173], "format": ".5f", "grid": false, "tickSize": 4, "labelPadding": 1, "labelFlush": true, "domain": false, "title": null}}
  },
  "layer": [
   {"mark": {"type": "rule", "color": "#b4a9b4", "strokeDash": [3,2]},
    "encoding": {"x": null, "y": {"datum": 0}}},
   {"mark": {"type": "bar", "width": 4},
    "encoding": {"color": {"field": "c", "type": "nominal", "scale": {"domain": ["g", "r"], "range": ["#008000", "#FF0000"]}, "legend": null}}}
  ]
 },
 {
  "width": 1220, "height": 84,
  "title": {"text": "Gator(13,8,5) 2.2749 0.0000"},
  "data": {"name": "gator"},
  "encoding": {
   "x": {"field": "i", "type": "quantitative", "title": null, "scale": {"domain": [-0.0625, 152.4375], "nice": false, "zero": false},
     "axis": {"values": [0,4,8,12,16,20,24,28,32,36,40,44,48,52,56,60,64,68,72,76,80,84,88,92,96,100,104,108,112,116,120,124,128,132,136,140,144,148,152], "grid": true, "gridColor": "#b4a9b4", "gridDash": [3,2], "domain": false, "title": null,
       "ticks": true, "tickSize": 4, "tickColor": {"condition": {"test": "datum.value % 8 !== 0 || datum.value > 136", "value": "transparent"}, "value": "black"},
       "labelAlign": "left", "labelPadding": 2, "labelOverlap": false, "labelBound": false, "labelFlush": false,
       "labelExpr": "datum.value % 8 === 0 && datum.value <= 136 ? ['26 Nov 2024','27 Nov 05:00','27 Nov 13:00','27 Nov 21:00','28 Nov 06:00','28 Nov 14:00','29 Nov 01:00','29 Nov 09:00','29 Nov 17:00','2 Dec 04:00','2 Dec 12:00','2 Dec 20:00','3 Dec 05:00','3 Dec 13:00','3 Dec 21:00','4 Dec 06:00','4 Dec 14:00','4 Dec 22:00'][datum.value / 8] : ''"}},
   "y": {"type": "quantitative", "title": null, "scale": {"domain": [-11.6676, 10.5061], "nice": false, "zero": false},
     "axis": {"orient": "right", "values": [-11.6676, 0, 10.5061], "format": ".4f", "grid": false, "tickSize": 4, "labelPadding": 1, "labelFlush": true, "domain": false, "title": null}}
  },
  "layer": [
   {"mark": {"type": "rule", "color": "#b4a9b4", "strokeDash": [3,2]},
    "encoding": {"x": null, "y": {"datum": 0}}},
   {"mark": {"type": "bar", "width": 4},
    "encoding": {"y": {"field": "u"}, "color": {"field": "uc", "type": "nominal", "scale": {"domain": ["g", "r"], "range": ["#008000", "#FF0000"]}, "legend": null}}},
   {"mark": {"type": "bar", "width": 4},
    "encoding": {"y": {"field": "d"}, "color": {"field": "dc", "type": "nominal", "scale": {"domain": ["g", "r"], "range": ["#008000", "#FF0000"]}, "legend": null}}}
  ]
 }
]
}
